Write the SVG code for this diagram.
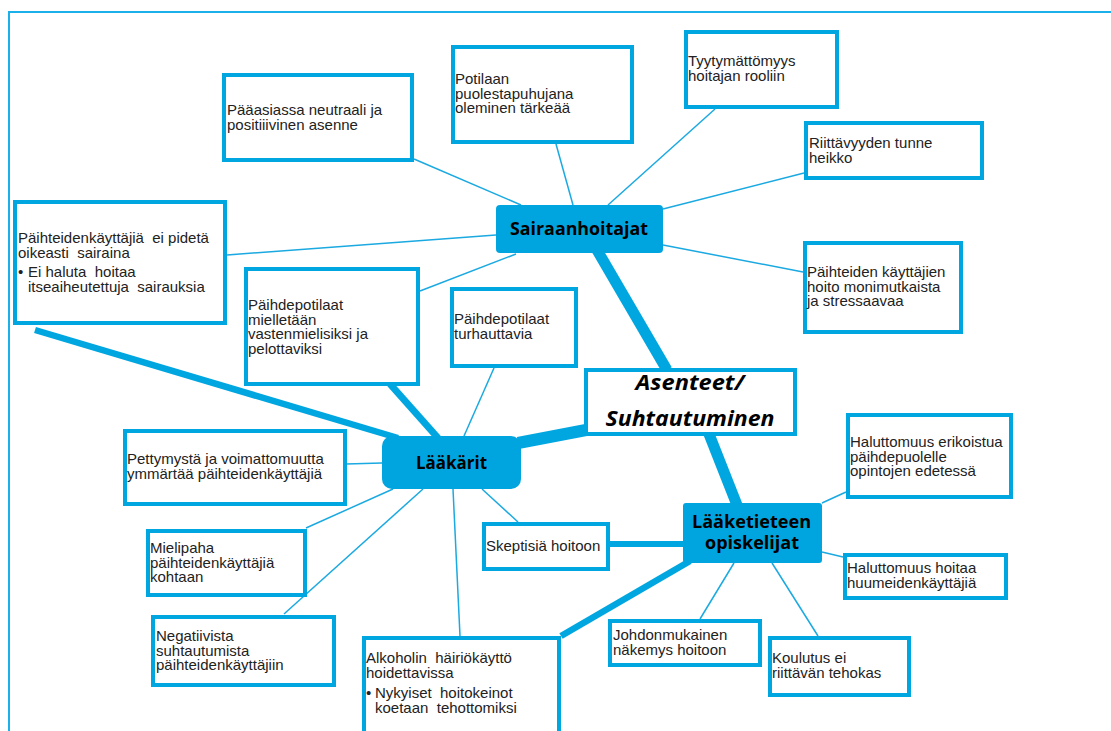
<svg xmlns="http://www.w3.org/2000/svg" width="1111" height="731" viewBox="0 0 1111 731">
<style>
.box{fill:#fff;stroke:#00a6e0;stroke-width:4}
.hub{fill:#00a5df;stroke:none}
.t{font-family:"Liberation Sans",Arial,sans-serif;font-size:15px;fill:#222}
.h{font-family:"Open Sans","Noto Sans",sans-serif;font-weight:bold;font-size:18.5px;fill:#000;text-anchor:middle}
.c{font-family:"Open Sans","Noto Sans",sans-serif;font-weight:bold;font-style:italic;font-size:21px;fill:#000;text-anchor:middle}
.thin{stroke:#1aa9e1;stroke-width:1.5;fill:none}
.thick{stroke:#00a6e0;fill:none}
</style>
<rect width="1111" height="731" fill="#fff"/>
<g id="frame">
<path d="M9 731 V12 H1111" fill="none" stroke="#1cb0ea" stroke-width="2"/>
</g>
<g id="connectors">
<line class="thick" x1="597" y1="250" x2="667" y2="370" stroke-width="11"/>
<line class="thick" x1="586" y1="430" x2="518" y2="443" stroke-width="12"/>
<line class="thick" x1="709" y1="434" x2="737" y2="505" stroke-width="11"/>
<line class="thick" x1="35" y1="330" x2="398" y2="438" stroke-width="6.5"/>
<line class="thick" x1="390" y1="384" x2="438" y2="438" stroke-width="7"/>
<line class="thick" x1="608" y1="544" x2="685" y2="544" stroke-width="6"/>
<line class="thick" x1="561" y1="636" x2="690" y2="561" stroke-width="6.5"/>
<line class="thin" x1="414" y1="159" x2="521" y2="205"/>
<line class="thin" x1="556" y1="144" x2="573" y2="205"/>
<line class="thin" x1="715" y1="109" x2="608" y2="205"/>
<line class="thin" x1="804" y1="173" x2="663" y2="209"/>
<line class="thin" x1="663" y1="245" x2="803" y2="272"/>
<line class="thin" x1="227" y1="255" x2="496" y2="235"/>
<line class="thin" x1="420" y1="291" x2="516" y2="254"/>
<line class="thin" x1="494" y1="368" x2="464" y2="436"/>
<line class="thin" x1="346" y1="464" x2="382" y2="463"/>
<line class="thin" x1="306" y1="528" x2="393" y2="489"/>
<line class="thin" x1="284" y1="614" x2="423" y2="489"/>
<line class="thin" x1="460" y1="636" x2="453" y2="489"/>
<line class="thin" x1="482" y1="489" x2="518" y2="522"/>
<line class="thin" x1="822" y1="503" x2="846" y2="492"/>
<line class="thin" x1="822" y1="552" x2="843" y2="557"/>
<line class="thin" x1="734" y1="563" x2="700" y2="619"/>
<line class="thin" x1="772" y1="563" x2="818" y2="636"/>
</g>
<g id="n-paaasiassa">
<rect class="box" x="224" y="75" width="188" height="85"/>
<text class="t" x="227" y="115">Pääasiassa neutraali ja</text>
<text class="t" x="227" y="129.5">positiiivinen asenne</text>
</g>
<g id="n-potilaan">
<rect class="box" x="453" y="47" width="179" height="95"/>
<text class="t" x="455" y="84">Potilaan</text>
<text class="t" x="455" y="98.5">puolestapuhujana</text>
<text class="t" x="455" y="113">oleminen tärkeää</text>
</g>
<g id="n-tyytymattomyys">
<rect class="box" x="686" y="32" width="151" height="75"/>
<text class="t" x="688" y="66">Tyytymättömyys</text>
<text class="t" x="688" y="80.5">hoitajan rooliin</text>
</g>
<g id="n-riittavyyden">
<rect class="box" x="806" y="123" width="176" height="55"/>
<text class="t" x="809" y="148">Riittävyyden tunne</text>
<text class="t" x="809" y="162.5">heikko</text>
</g>
<g id="n-paihteiden-kayttajien">
<rect class="box" x="805" y="243" width="156" height="89"/>
<text class="t" x="807" y="277">Päihteiden käyttäjien</text>
<text class="t" x="807" y="291.5">hoito monimutkaista</text>
<text class="t" x="807" y="306">ja stressaavaa</text>
</g>
<g id="n-ei-pideta">
<rect class="box" x="15" y="202" width="210" height="121"/>
<text class="t" x="18" y="243">Päihteidenkäyttäjiä&#160; ei pidetä</text>
<text class="t" x="18" y="257.5">oikeasti&#160; sairaina</text>
<text class="t" x="18" y="277">•</text>
<text class="t" x="28" y="277">Ei haluta&#160; hoitaa</text>
<text class="t" x="28" y="291.5">itseaiheutettuja&#160; sairauksia</text>
</g>
<g id="n-mielletaan">
<rect class="box" x="246" y="269" width="172" height="115"/>
<text class="t" x="248" y="310">Päihdepotilaat</text>
<text class="t" x="248" y="324.5">mielletään</text>
<text class="t" x="248" y="339">vastenmielisiksi ja</text>
<text class="t" x="248" y="353.5">pelottaviksi</text>
</g>
<g id="n-turhauttavia">
<rect class="box" x="452" y="289" width="124" height="77"/>
<text class="t" x="454" y="324">Päihdepotilaat</text>
<text class="t" x="454" y="338.5">turhauttavia</text>
</g>
<g id="n-center">
<rect class="box" x="586" y="370" width="209" height="64"/>
<text class="c" x="690" y="390" textLength="109" lengthAdjust="spacingAndGlyphs">Asenteet/</text>
<text class="c" x="690" y="426" textLength="169" lengthAdjust="spacingAndGlyphs">Suhtautuminen</text>
</g>
<g id="n-sairaanhoitajat">
<rect class="hub" x="496" y="205" width="167" height="48" rx="4"/>
<text class="h" x="579" y="234.5" textLength="138" lengthAdjust="spacingAndGlyphs">Sairaanhoitajat</text>
</g>
<g id="n-laakarit">
<rect class="hub" x="382" y="436" width="139" height="53" rx="10"/>
<text class="h" x="451.5" y="468.5" textLength="71" lengthAdjust="spacingAndGlyphs">Lääkärit</text>
</g>
<g id="n-opiskelijat">
<rect class="hub" x="683" y="503" width="139" height="60" rx="3"/>
<text class="h" x="751.5" y="528" textLength="119" lengthAdjust="spacingAndGlyphs">Lääketieteen</text>
<text class="h" x="752" y="549" textLength="94" lengthAdjust="spacingAndGlyphs">opiskelijat</text>
</g>
<g id="n-pettymysta">
<rect class="box" x="125" y="431" width="220" height="73"/>
<text class="t" x="127" y="464">Pettymystä ja voimattomuutta</text>
<text class="t" x="127" y="478.5">ymmärtää päihteidenkäyttäjiä</text>
</g>
<g id="n-mielipaha">
<rect class="box" x="148" y="531" width="157" height="64"/>
<text class="t" x="150" y="553">Mielipaha</text>
<text class="t" x="150" y="567.5">päihteidenkäyttäjiä</text>
<text class="t" x="150" y="582">kohtaan</text>
</g>
<g id="n-negatiivista">
<rect class="box" x="153" y="617" width="181" height="68"/>
<text class="t" x="156" y="641">Negatiivista</text>
<text class="t" x="156" y="655.5">suhtautumista</text>
<text class="t" x="156" y="670">päihteidenkäyttäjiin</text>
</g>
<g id="n-alkoholin">
<rect class="box" x="364" y="638" width="195" height="100"/>
<text class="t" x="366" y="663">Alkoholin&#160; häiriökäyttö</text>
<text class="t" x="366" y="677.5">hoidettavissa</text>
<text class="t" x="366" y="698">•</text>
<text class="t" x="375" y="698">Nykyiset&#160; hoitokeinot</text>
<text class="t" x="375" y="712.5">koetaan&#160; tehottomiksi</text>
</g>
<g id="n-skeptisia">
<rect class="box" x="484" y="524" width="124" height="45"/>
<text class="t" x="486" y="551">Skeptisiä hoitoon</text>
</g>
<g id="n-erikoistua">
<rect class="box" x="848" y="415" width="163" height="82"/>
<text class="t" x="850" y="447">Haluttomuus erikoistua</text>
<text class="t" x="850" y="461.5">päihdepuolelle</text>
<text class="t" x="850" y="476">opintojen edetessä</text>
</g>
<g id="n-hoitaa">
<rect class="box" x="845" y="555" width="161" height="43"/>
<text class="t" x="847" y="573">Haluttomuus hoitaa</text>
<text class="t" x="847" y="587.5">huumeidenkäyttäjiä</text>
</g>
<g id="n-johdonmukainen">
<rect class="box" x="610" y="621" width="150" height="44"/>
<text class="t" x="613" y="640">Johdonmukainen</text>
<text class="t" x="613" y="654.5">näkemys hoitoon</text>
</g>
<g id="n-koulutus">
<rect class="box" x="770" y="638" width="139" height="57"/>
<text class="t" x="772" y="663">Koulutus ei</text>
<text class="t" x="772" y="677.5">riittävän tehokas</text>
</g>
</svg>
